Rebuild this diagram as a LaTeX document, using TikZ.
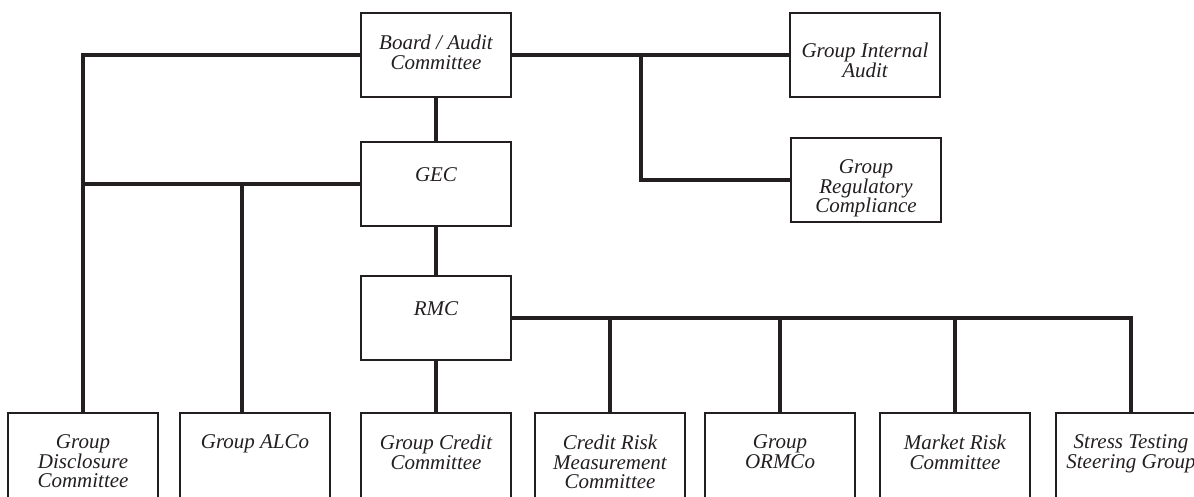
\documentclass[tikz,border=0pt]{standalone}
\usepackage{fontspec}
\setmainfont{Liberation Serif}
\usetikzlibrary{positioning}

\definecolor{ink}{HTML}{231F20}
\newcommand{\unitfont}{\fontsize{21}{19.5}\selectfont\itshape}

\tikzstyle{unit} = [draw=ink, line width=2.4pt, minimum width=150pt, minimum height=84pt, inner sep=0pt]
\tikzstyle{caption} = [anchor=north, align=center, inner sep=0pt, text=ink, font=\unitfont, yshift=-23pt]
\tikzstyle{link} = [draw=ink, line width=3.8pt]

\begin{document}
\begin{tikzpicture}[x=1pt, y=-1pt]
		\useasboundingbox (0,0) rectangle (1194,497);
		\clip (0,0) rectangle (1194,497);
		%\draw[help lines] (0,0) grid[step=50] (1194,497);
		
		\node[unit, label={[caption]north:Board / Audit\\Committee}] (board) at (436, 55) {};
		\node[unit, label={[caption, yshift=-4pt]north:GEC}] (gec) at (436, 184) {};
		\node[unit, label={[caption, yshift=-4pt]north:RMC}] (rmc) at (436, 318) {};
		\node[unit, label={[caption, yshift=-8pt]north:Group Internal\\Audit}] (gia) at (865, 55) {};
		\node[unit, label={[caption]north:Group\\Regulatory\\Compliance}] (grc) at (866, 180) {};
		
		\foreach \n/\x/\txt in {disc/83/{Group\\Disclosure\\Committee},
			alco/255/{Group ALCo},
			credit/436/{Group Credit\\Committee},
			crm/610/{Credit Risk\\Measurement\\Committee},
			ormco/780/{Group\\ORMCo},
			mrc/955/{Market Risk\\Committee},
			stg/1131/{Stress Testing\\Steering Group}}
		\node[unit, minimum height=92pt, label={[caption]north:\txt}] (\n) at (\x, 459) {};
		
		% top level
		\draw[link] (board.west) -| (disc.north);
		\draw[link] (board.east) -- (gia.west);
		\draw[link] ([xshift=129pt]board.east) |- (grc.west);
		\draw[link] (board.south) -- (gec.north);
		
		% GEC level
		\draw[link] (gec.west) -| (disc.north);
		\draw[link] (gec.west) -| ([xshift=-13pt]alco.north);
		\draw[link] (gec.south) -- (rmc.north);
		
		% RMC level
		\draw[link] (rmc.south) -- (credit.north);
		\foreach \n in {crm, ormco, mrc, stg}
		\draw[link] (rmc.east) -| (\n.north);
		
	\end{tikzpicture}
\end{document}
